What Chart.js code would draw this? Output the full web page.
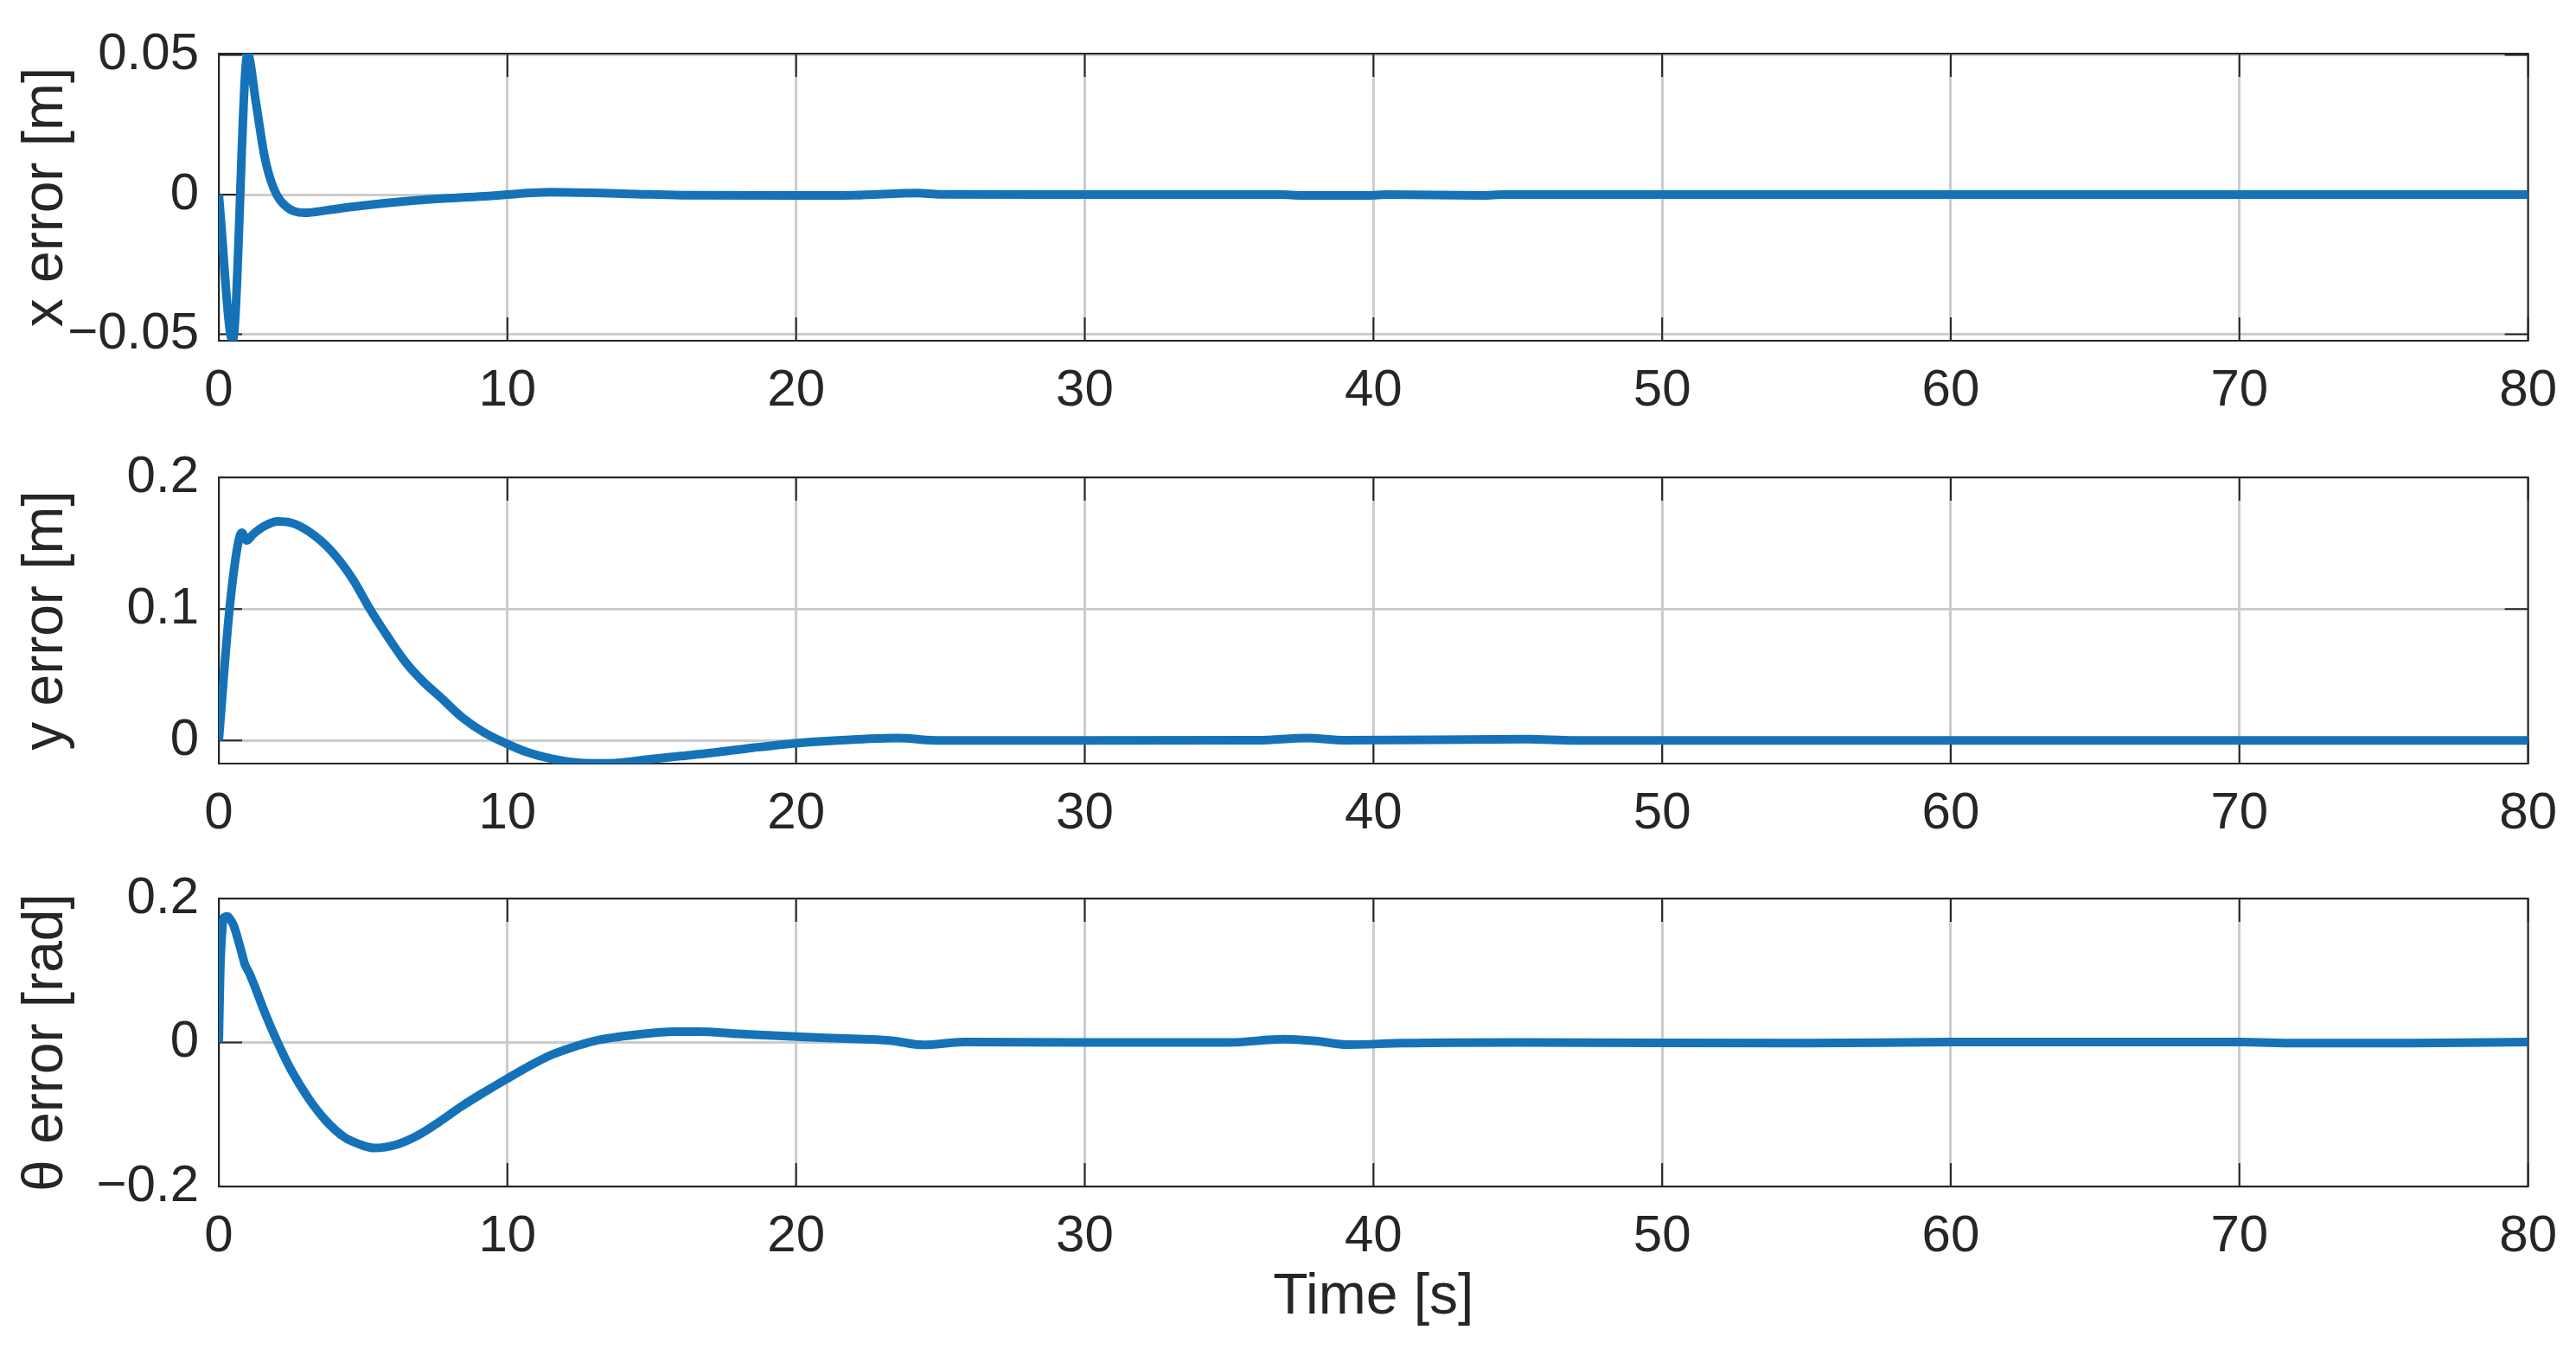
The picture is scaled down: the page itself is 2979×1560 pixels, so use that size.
<!DOCTYPE html>
<html>
<head>
<meta charset="utf-8">
<script src="https://cdn.jsdelivr.net/npm/chart.js@4.4.1/dist/chart.umd.min.js"></script>
<style>
  html, body { margin: 0; padding: 0; background: #fff; overflow: hidden; }
  canvas { position: absolute; left: 0; }
</style>
</head>
<body>
<canvas id="xErr" width="2979" height="501" style="top:3px"></canvas>
<canvas id="yErr" width="2979" height="500" style="top:493px"></canvas>
<canvas id="thErr" width="2979" height="562" style="top:980px"></canvas>
<script>
// time axis ticks (shared by the three panels)
const timeTicks = [0, 10, 20, 30, 40, 50, 60, 70, 80];

// x error [m]
const xErrT = [0, 0.48, 1.0, 1.28, 1.58, 1.9, 2.35, 2.96, 3.8, 4.6, 6.9, 9.2, 11.5, 13.3, 14.5, 16, 20, 22, 24.2, 25, 30, 36.8, 37.5, 39.8, 40.5, 43.8, 44.5, 50, 60, 70, 80];
const xErrV = [0, -0.0523, 0.0505, 0.0335, 0.014, 0.0023, -0.0044, -0.0065, -0.0055, -0.0044, -0.002, -0.0006, 0.0009, 0.0006, 0.0002, -0.0002, -0.0003, -0.0002, 0.0006, 0.0001, 0, 0, -0.0003, -0.0003, 0, -0.0003, 0, 0, 0, 0, 0];
const xErrTicks = [-0.05, 0, 0.05];

// y error [m]
const yErrT = [0, 0.37, 0.68, 0.8, 0.97, 1.2, 1.58, 2.04, 2.5, 3.11, 3.87, 4.63, 5.24, 5.85, 6.46, 7.07, 7.68, 8.44, 9.2, 9.96, 10.7, 11.5, 12.2, 13.0, 13.9, 14.8, 16, 17.1, 18.5, 20, 22, 23.5, 25, 30, 36, 37.7, 39, 45.3, 47, 60, 70, 80];
const yErrV = [0, 0.0994, 0.151, 0.158, 0.152, 0.157, 0.163, 0.1665, 0.1655, 0.159, 0.1447, 0.123, 0.0998, 0.079, 0.0598, 0.045, 0.0329, 0.0174, 0.006, -0.0023, -0.009, -0.0137, -0.0163, -0.0174, -0.0168, -0.0145, -0.0118, -0.0093, -0.0055, -0.002, 0.0008, 0.0019, 0, 0, 0.0002, 0.0019, 0.0002, 0.001, 0, 0, 0, 0];
const yErrTicks = [0, 0.1, 0.2];

// theta error [rad]
const thErrT = [0, 0.05, 0.12, 0.17, 0.29, 0.4, 0.52, 0.75, 0.9, 0.98, 1.05, 1.59, 2.04, 2.5, 3.11, 3.72, 4.33, 4.85, 5.39, 6.15, 6.9, 7.65, 8.4, 9.2, 9.96, 10.7, 11.48, 12.25, 13.0, 14.5, 15.8, 16.6, 18, 20, 22, 23.3, 24.4, 25.8, 30, 35, 36.9, 38, 39.1, 41, 45, 55, 60, 70, 72, 76, 80];
const thErrV = [0, 0.1, 0.157, 0.173, 0.175, 0.171, 0.162, 0.131, 0.109, 0.102, 0.097, 0.042, 0, -0.0378, -0.0778, -0.109, -0.131, -0.141, -0.1466, -0.142, -0.129, -0.110, -0.089, -0.069, -0.051, -0.034, -0.018, -0.0068, 0.002, 0.0109, 0.015, 0.015, 0.012, 0.008, 0.005, 0.0025, -0.0034, 0.0005, 0, 0, 0.0045, 0.002, -0.003, -0.001, 0, -0.001, 0.0005, 0.0005, -0.001, -0.001, 0.0005];
const thErrTicks = [-0.2, 0, 0.2];

const FONT = 'Liberation Sans, Arial, Helvetica, sans-serif';
const TXT = '#262626';
const TICK_LEN = 27;

// axes box + inward tick marks, like the MATLAB axes
const boxPlugin = {
  id: 'matlabBox',
  beforeDatasetsDraw(chart) {
    const { ctx, chartArea: a, scales: { x, y } } = chart;
    ctx.save();
    ctx.strokeStyle = TXT;
    ctx.lineWidth = 2;
    ctx.strokeRect(a.left, a.top, a.right - a.left, a.bottom - a.top);
    ctx.beginPath();
    x.ticks.forEach(t => {
      const px = x.getPixelForValue(t.value);
      ctx.moveTo(px, a.bottom); ctx.lineTo(px, a.bottom - TICK_LEN);
      ctx.moveTo(px, a.top); ctx.lineTo(px, a.top + TICK_LEN);
    });
    y.ticks.forEach(t => {
      const py = y.getPixelForValue(t.value);
      ctx.moveTo(a.left, py); ctx.lineTo(a.left + TICK_LEN, py);
      ctx.moveTo(a.right, py); ctx.lineTo(a.right - TICK_LEN, py);
    });
    ctx.stroke();
    ctx.restore();
  }
};

function fmt(v) {
  return v < 0 ? '\u2212' + Math.abs(v) : String(v);
}

function makePanel(id, times, values, yMin, yMax, yTicks, yTitle, xAxisHeight, timeTitle) {
  new Chart(document.getElementById(id), {
    type: 'line',
    data: {
      datasets: [{
        data: times.map((t, i) => ({ x: t, y: values[i] })),
        borderColor: 'rgb(21,114,184)',
        borderWidth: 10,
        borderJoinStyle: 'round',
        pointRadius: 0,
        cubicInterpolationMode: 'monotone',
        fill: false
      }]
    },
    options: {
      responsive: false,
      animation: false,
      events: [],
      layout: { padding: { top: 40, right: 48, left: 0, bottom: 0 } },
      plugins: { legend: { display: false }, tooltip: { enabled: false } },
      scales: {
        x: {
          type: 'linear',
          min: 0,
          max: 80,
          afterBuildTicks: s => { s.ticks = timeTicks.map(v => ({ value: v })); },
          afterFit: s => { s.height = xAxisHeight; },
          grid: { color: '#cccccc', lineWidth: 3, drawTicks: false },
          border: { display: false },
          ticks: { color: TXT, font: { family: FONT, size: 60 }, padding: 22, maxRotation: 0 },
          title: {
            display: !!timeTitle,
            text: timeTitle || '',
            color: TXT,
            font: { family: FONT, size: 66 },
            padding: { top: 0, bottom: 2 }
          }
        },
        y: {
          type: 'linear',
          min: yMin,
          max: yMax,
          afterBuildTicks: s => { s.ticks = yTicks.map(v => ({ value: v })); },
          afterFit: s => { s.width = 253; },
          grid: { color: '#cccccc', lineWidth: 3, drawTicks: false },
          border: { display: false },
          ticks: { color: TXT, font: { family: FONT, size: 60 }, padding: 23, callback: v => fmt(v) },
          title: {
            display: true,
            text: yTitle,
            color: TXT,
            font: { family: FONT, size: 66 },
            padding: { top: 14, bottom: 0 }
          }
        }
      }
    },
    plugins: [boxPlugin]
  });
}

makePanel('xErr', xErrT, xErrV, -0.0523, 0.0505, xErrTicks, 'x error [m]', 110);
makePanel('yErr', yErrT, yErrV, -0.0175, 0.2, yErrTicks, 'y error [m]', 110);
makePanel('thErr', thErrT, thErrV, -0.2, 0.2, thErrTicks, '\u03B8 error [rad]', 170, 'Time [s]');
</script>
</body>
</html>
